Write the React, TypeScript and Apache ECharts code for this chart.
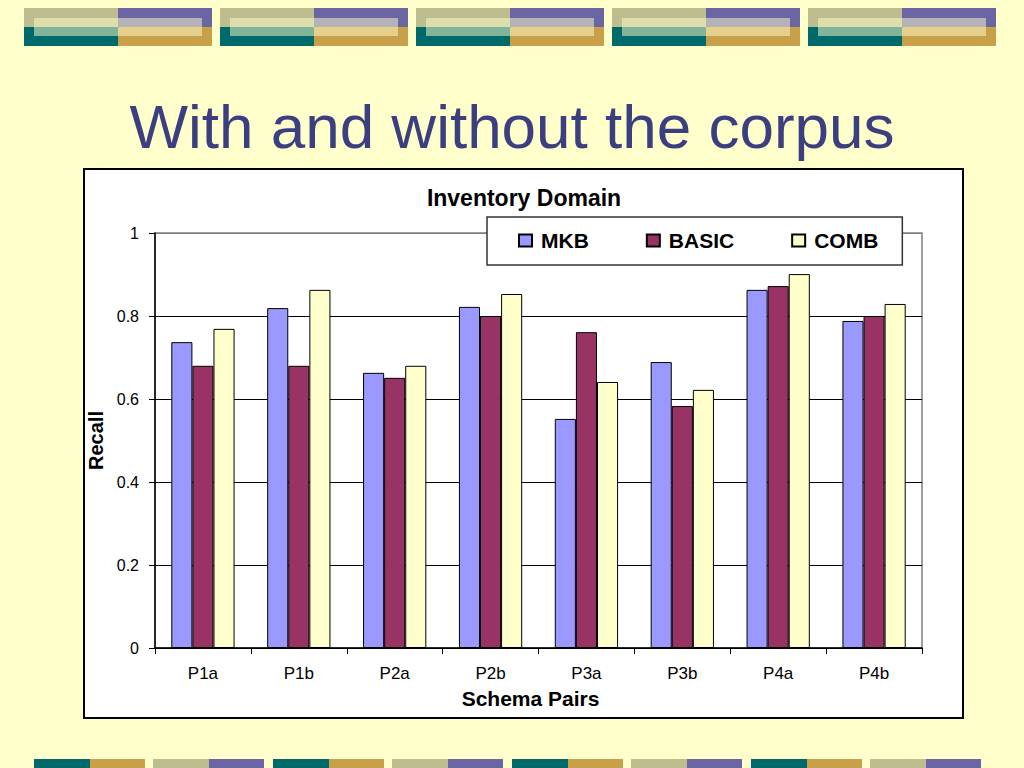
import React, { useEffect, useRef } from "react";
import * as echarts from "echarts";

const categories = ["P1a", "P1b", "P2a", "P2b", "P3a", "P3b", "P4a", "P4b"];
const mkb = [0.737, 0.819, 0.663, 0.822, 0.552, 0.689, 0.863, 0.788];
const basic = [0.68, 0.68, 0.651, 0.8, 0.761, 0.583, 0.872, 0.8];
const comb = [0.769, 0.863, 0.68, 0.853, 0.641, 0.622, 0.901, 0.829];
const yTicks = [0, 0.2, 0.4, 0.6, 0.8, 1];

const FONT = "'Liberation Sans', Arial, Helvetica, sans-serif";
const BG = "#FFFFCC";

function topBlocks() {
  const els: any[] = [];
  for (let i = 0; i < 5; i++) {
    const x = 24 + 196 * i;
    els.push({ type: "rect", shape: { x, y: 8, width: 94, height: 19 }, style: { fill: "#BDBD8D" }, z: -20 });
    els.push({ type: "rect", shape: { x: x + 94, y: 8, width: 94, height: 19 }, style: { fill: "#6B66A3" }, z: -20 });
    els.push({ type: "rect", shape: { x, y: 27, width: 94, height: 19 }, style: { fill: "#006A6A" }, z: -20 });
    els.push({ type: "rect", shape: { x: x + 94, y: 27, width: 94, height: 19 }, style: { fill: "#C9A04A" }, z: -20 });
    els.push({ type: "rect", shape: { x: x + 10, y: 18, width: 168, height: 18 }, style: { fill: BG, opacity: 0.5 }, z: -19 });
  }
  const starts = [34, 153, 273, 392, 512, 631, 751, 870];
  starts.forEach((x, i) => {
    const a = i % 2 === 0 ? "#006A6A" : "#BDBD8D";
    const b = i % 2 === 0 ? "#C9A04A" : "#6B66A3";
    els.push({ type: "rect", shape: { x, y: 759, width: 56, height: 9 }, style: { fill: a }, z: -20 });
    els.push({ type: "rect", shape: { x: x + 56, y: 759, width: 55, height: 9 }, style: { fill: b }, z: -20 });
  });
  return els;
}

export default function App() {
  const ref = useRef<HTMLDivElement>(null);
  useEffect(() => {
    if (!ref.current) return;
    const chart = echarts.init(ref.current, undefined, { renderer: "svg" });
    const barStyle = (color: string) => ({ color, borderColor: "#000", borderWidth: 1 });
    chart.setOption({
      animation: false,
      backgroundColor: BG,
      textStyle: { fontFamily: FONT },
      graphic: [
        ...topBlocks(),
        {
          type: "text",
          x: 512,
          y: 126,
          z: -10,
          style: {
            text: "With and without the corpus",
            font: `62px ${FONT}`,
            fill: "#3C3F7F",
            align: "center",
            verticalAlign: "middle",
          },
        },
        {
          type: "rect",
          z: -15,
          shape: { x: 84, y: 169, width: 879, height: 549 },
          style: { fill: "#FFFFFF", stroke: "#000", lineWidth: 2 },
        },
      ],
      title: {
        text: "Inventory Domain",
        left: 524,
        textAlign: "center",
        top: 186,
        padding: 0,
        textStyle: { fontFamily: FONT, fontSize: 23, fontWeight: "bold", color: "#000" },
      },
      legend: {
        left: 487,
        top: 217,
        padding: [13, 24, 14, 31],
        itemGap: 57,
        itemWidth: 13,
        itemHeight: 12,
        icon: "rect",
        backgroundColor: "#FFFFFF",
        borderColor: "#333",
        borderWidth: 1.5,
        borderRadius: 0,
        textStyle: { fontFamily: FONT, fontSize: 21, fontWeight: "bold", color: "#000", padding: [0, 0, 0, 4] },
        data: ["MKB", "BASIC", "COMB"],
      },
      grid: {
        left: 155,
        top: 233,
        width: 767,
        height: 415,
        show: true,
        borderColor: "#808080",
        borderWidth: 1.5,
        backgroundColor: "transparent",
      },
      xAxis: {
        type: "category",
        data: categories,
        name: "Schema Pairs",
        nameLocation: "middle",
        nameGap: 40,
        nameTextStyle: { fontFamily: FONT, fontSize: 21, fontWeight: "bold", color: "#000", padding: [0, 16, 0, 0] },
        axisLine: { lineStyle: { color: "#000", width: 1.5 } },
        axisTick: { show: true, length: 6, lineStyle: { color: "#000" } },
        axisLabel: { fontFamily: FONT, fontSize: 17, color: "#000", margin: 17 },
        splitLine: { show: false },
      },
      yAxis: {
        type: "value",
        min: 0,
        max: 1,
        interval: 0.2,
        name: "Recall",
        nameLocation: "middle",
        nameGap: 41,
        nameTextStyle: { fontFamily: FONT, fontSize: 20, fontWeight: "bold", color: "#000" },
        axisLine: { show: true, lineStyle: { color: "#000", width: 1.5 } },
        axisTick: { show: true, length: 6, lineStyle: { color: "#000" } },
        axisLabel: {
          fontFamily: FONT,
          fontSize: 16,
          color: "#000",
          margin: 16,
          formatter: (v: number) => {
            const t = yTicks.find((y) => Math.abs(y - v) < 1e-9);
            return t === undefined ? "" : String(t);
          },
        },
        splitLine: {
          show: true,
          lineStyle: { color: ["#000", "#000", "#000", "#000", "#000", "#808080"], width: 1.2 },
        },
      },
      series: [
        { name: "MKB", type: "bar", data: mkb, itemStyle: barStyle("#9999FF"), barGap: "0%", barCategoryGap: "34%" },
        { name: "BASIC", type: "bar", data: basic, itemStyle: barStyle("#993366"), barGap: "0%", barCategoryGap: "34%" },
        { name: "COMB", type: "bar", data: comb, itemStyle: barStyle("#FFFFCC"), barGap: "0%", barCategoryGap: "34%" },
      ],
    });
    return () => chart.dispose();
  }, []);
  return <div ref={ref} style={{ position: "fixed", left: 0, top: 0, width: 1024, height: 768 }} />;
}
